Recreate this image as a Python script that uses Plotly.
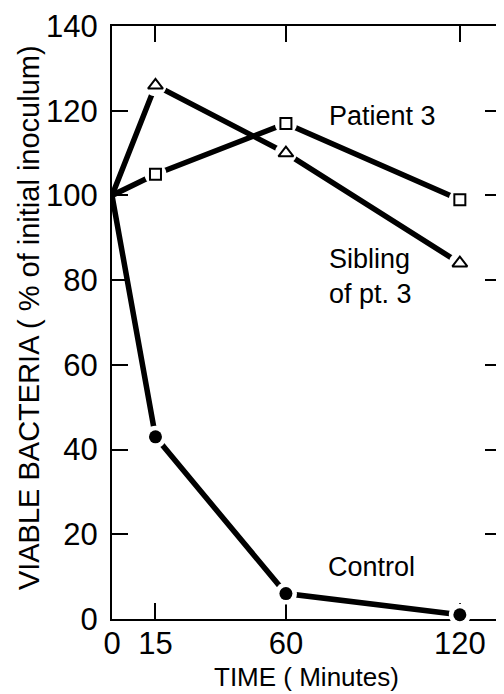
import plotly.graph_objects as go

# ---- data ----
time_min = [0, 15, 60, 120]
patient3 = [100, 105, 117, 99]
sibling = [100, 126, 110, 84]
control = [100, 43, 6, 1]

x_ticks = [0, 15, 60, 120]
y_ticks = [0, 20, 40, 60, 80, 100, 120, 140]

series = [
    ("Patient 3", patient3, "square-open"),
    ("Sibling of pt. 3", sibling, "triangle-up-open"),
    ("Control", control, "circle"),
]

FONT = "Liberation Sans"
fig = go.Figure()

# lines
for name, vals, sym in series:
    fig.add_trace(go.Scatter(x=time_min, y=vals, mode="lines",
                             line=dict(color="black", width=5.5),
                             showlegend=False, hoverinfo="skip"))
# white halos (gaps around markers)
for name, vals, sym in series:
    fig.add_trace(go.Scatter(x=time_min[1:], y=vals[1:], mode="markers",
                             marker=dict(symbol="circle", size=22, color="white",
                                         line=dict(width=0)),
                             cliponaxis=False, showlegend=False, hoverinfo="skip"))
# markers
for name, vals, sym in series:
    if sym == "circle":
        mk = dict(symbol="circle", size=13, color="black", line=dict(width=0))
    elif sym == "square-open":
        mk = dict(symbol=sym, size=11, color="black", line=dict(width=2, color="black"))
    else:
        mk = dict(symbol=sym, size=13, color="black", line=dict(width=2, color="black"))
    fig.add_trace(go.Scatter(x=time_min[1:], y=vals[1:], mode="markers", name=name,
                             marker=mk, cliponaxis=False, showlegend=False))

axis_common = dict(showline=True, linecolor="black", linewidth=2, mirror="allticks",
                   ticks="inside", ticklen=16, tickwidth=2, tickcolor="black",
                   showgrid=False, zeroline=False, layer="below traces",
                   ticklabeloverflow="allow",
                   tickfont=dict(family=FONT, size=31, color="black"))

fig.update_xaxes(range=[0, 134.2], tickvals=x_ticks,
                 ticktext=[str(v) for v in x_ticks], ticklabelstandoff=-4, **axis_common)
fig.update_yaxes(range=[0, 140], tickvals=y_ticks,
                 ticktext=[str(v) for v in y_ticks], ticklabelstandoff=6, **axis_common)

ann_font = dict(family=FONT, size=27, color="black")
# page body has an 8px margin, so the figure is 8px smaller and shifted
fig.update_layout(
    width=496, height=686,
    margin=dict(l=104, r=1, t=11, b=75),
    plot_bgcolor="white", paper_bgcolor="white",
    annotations=[
        dict(text="Patient 3", xref="paper", yref="paper", x=0.552, y=0.848,
             xanchor="left", yanchor="middle", showarrow=False, font=ann_font),
        dict(text="Sibling<br>of pt. 3", xref="paper", yref="paper", x=0.552, y=0.577,
             xanchor="left", yanchor="middle", align="left", showarrow=False, font=ann_font),
        dict(text="Control", xref="paper", yref="paper", x=0.550, y=0.088,
             xanchor="left", yanchor="middle", showarrow=False, font=ann_font),
        dict(text="TIME ( Minutes)", xref="paper", yref="paper", x=0.5, y=-0.098,
             xanchor="center", yanchor="middle", showarrow=False,
             font=dict(family=FONT, size=26, color="black")),
        dict(text="VIABLE BACTERIA ( % of initial inoculum)", xref="paper", yref="paper",
             x=-0.215, y=0.508, xanchor="center", yanchor="middle", textangle=-90,
             showarrow=False, font=dict(family=FONT, size=29, color="black")),
    ],
)

fig.write_html("out.html")
